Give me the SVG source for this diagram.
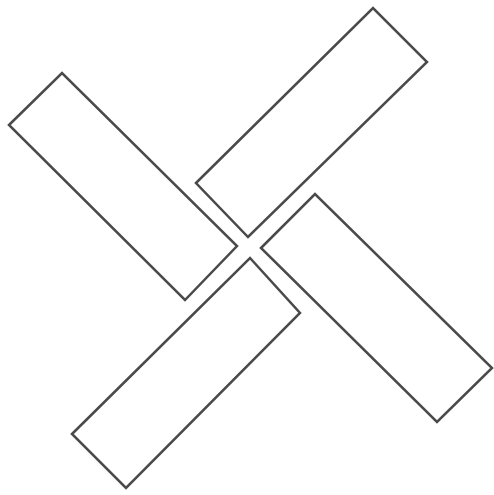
<svg xmlns="http://www.w3.org/2000/svg" width="494" height="495" viewBox="0 0 494 495">
<style>.bar{fill:#fff;stroke:#4a4a4a;stroke-width:2.5;stroke-linejoin:miter}</style>
<rect width="494" height="495" fill="#fff"/>
<g id="bar-top-left"><polygon class="bar" points="9,125 62,73 237,246 185,300"/></g>
<g id="bar-top-right"><polygon class="bar" points="196,183 373,8 427,62 248,237"/></g>
<g id="bar-bottom-right"><polygon class="bar" points="261,248 315,194 492,368 437,422"/></g>
<g id="bar-bottom-left"><polygon class="bar" points="72,434 250,258 300,313 126,488"/></g>
</svg>
